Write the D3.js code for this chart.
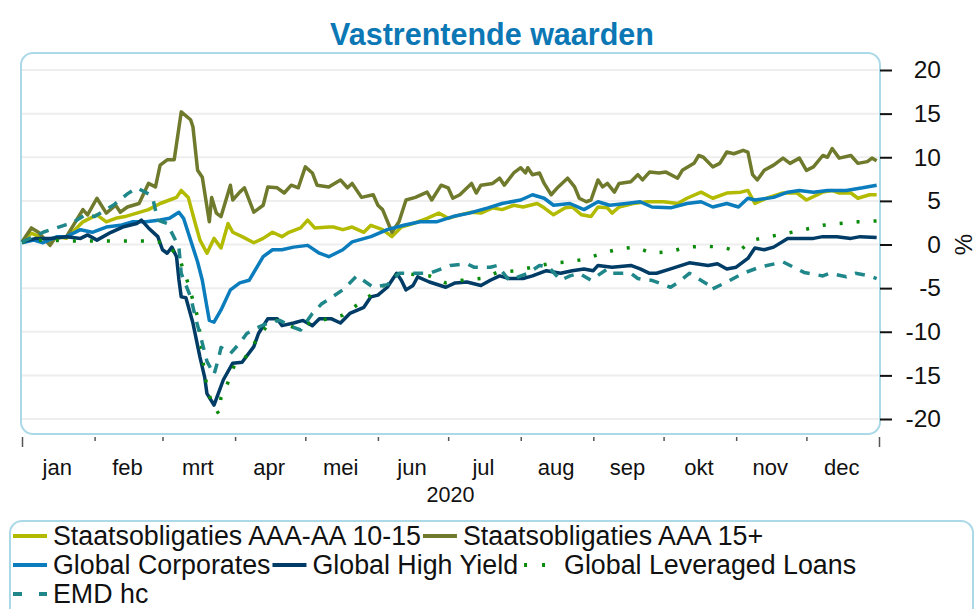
<!DOCTYPE html>
<html>
<head>
<meta charset="utf-8">
<script src="https://cdn.jsdelivr.net/npm/d3@7"></script>
<style>
	body { margin: 0; background: #fff; }
	svg { display: block; font-family: "Liberation Sans", Arial, sans-serif; }
</style>
</head>
<body>
<script>
// dag van het jaar (0 = 1 jan 2020), rendement in %
var staat1015 = [[0,0.3],[4,1.3],[9,0.7],[12,0.3],[15,0.9],[19,0.7],[26,2.6],[29,3.0],[32,3.4],[36,2.6],[40,3.0],[44,3.2],[49,3.6],[54,4.0],[59,4.7],[63,5.1],[66,5.4],[68,6.2],[71,5.4],[74,2.4],[76,0.5],[79,-1.0],[82,0.7],[85,-0.4],[88,2.4],[90,1.4],[94,0.9],[99,0.2],[103,0.7],[107,1.4],[111,0.9],[114,1.4],[119,1.9],[122,2.8],[125,1.9],[131,2.0],[133,2.0],[137,1.7],[141,2.0],[146,1.4],[149,2.2],[154,1.7],[158,0.9],[162,2.0],[167,2.4],[173,3.0],[178,3.6],[182,3.0],[187,3.4],[192,3.7],[196,3.6],[201,4.2],[205,4.0],[210,4.5],[214,4.3],[220,4.7],[223,4.2],[227,3.4],[232,4.2],[235,4.3],[239,3.4],[243,3.2],[246,4.3],[250,4.2],[252,3.6],[255,4.3],[261,4.7],[267,4.9],[274,4.9],[280,4.7],[284,5.3],[290,6.0],[295,5.3],[301,5.9],[307,6.0],[310,6.2],[313,4.7],[318,5.3],[325,5.9],[331,5.9],[335,5.1],[342,6.0],[346,6.2],[349,5.9],[354,5.9],[357,5.3],[362,5.7],[365,5.7]];

var staat15 = [[0,0.3],[4,1.9],[7,1.4],[12,-0.1],[14,0.7],[19,0.9],[26,4.0],[28,3.4],[32,5.3],[36,3.6],[40,4.5],[42,3.7],[45,4.3],[50,4.7],[54,7.0],[57,6.6],[59,9.1],[62,9.7],[65,9.7],[68,15.2],[72,14.3],[73,13.5],[75,8.5],[77,7.7],[80,2.6],[81,5.4],[83,3.6],[85,3.2],[89,6.8],[90,5.1],[93,6.0],[95,6.5],[99,3.7],[103,4.5],[105,6.6],[109,6.5],[112,5.9],[115,6.8],[118,6.5],[121,8.9],[124,8.2],[126,6.8],[131,6.6],[136,7.4],[139,6.5],[141,7.0],[145,5.4],[150,5.7],[152,4.5],[154,4.0],[158,1.4],[161,2.6],[164,5.1],[168,5.4],[173,6.0],[175,5.1],[179,6.8],[182,6.5],[184,5.3],[187,5.7],[192,7.0],[194,5.9],[196,6.8],[201,7.0],[204,7.6],[206,6.8],[210,8.2],[213,8.8],[215,8.2],[216,8.8],[218,8.0],[221,8.2],[223,7.0],[226,5.7],[229,6.6],[233,7.6],[236,6.6],[238,5.3],[241,4.9],[243,5.1],[246,7.4],[248,6.6],[250,7.0],[253,6.0],[255,7.0],[260,7.2],[263,8.0],[265,7.4],[268,8.3],[272,8.2],[275,8.3],[280,7.6],[282,8.5],[287,9.3],[289,10.2],[291,10.0],[295,8.9],[298,9.3],[301,10.6],[304,10.4],[308,10.8],[310,10.6],[312,8.0],[314,7.4],[317,8.5],[321,9.1],[325,9.9],[328,9.3],[332,9.9],[335,8.5],[338,8.9],[342,10.2],[344,10.0],[346,11.0],[349,9.9],[354,10.2],[357,9.3],[361,9.5],[363,9.9],[365,9.6]];

var corporates = [[0,0.2],[5,0.5],[9,0.2],[15,0.9],[19,0.9],[25,1.7],[30,1.4],[36,2.0],[42,2.2],[47,2.6],[53,2.6],[59,2.8],[63,3.0],[67,3.7],[69,3.0],[72,0.5],[75,-2.0],[77,-4.1],[79,-7.2],[80,-8.7],[82,-8.9],[85,-7.5],[89,-5.2],[93,-4.4],[97,-4.1],[103,-1.4],[107,-0.6],[111,-0.6],[116,-0.3],[122,-0.1],[127,-1.0],[131,-1.4],[137,-0.6],[141,0.3],[149,0.9],[156,1.7],[163,2.2],[170,2.6],[177,2.6],[184,3.2],[191,3.6],[199,4.2],[205,4.7],[213,5.1],[218,5.7],[223,5.3],[227,4.5],[234,4.7],[240,4.0],[246,4.9],[251,4.5],[258,4.7],[264,4.9],[269,4.3],[277,4.2],[284,4.7],[290,4.9],[295,4.3],[301,4.7],[306,4.3],[310,5.3],[313,5.1],[321,5.4],[327,6.0],[332,6.2],[338,6.0],[344,6.2],[352,6.2],[359,6.5],[365,6.8]];

var highYield = [[0,0.3],[6,0.7],[12,0.7],[19,0.9],[25,0.7],[28,1.1],[32,0.5],[38,1.4],[43,2.0],[49,2.4],[51,2.8],[54,1.9],[58,0.9],[60,-0.6],[62,-1.0],[64,-0.3],[66,-1.4],[67,-4.0],[68,-6.0],[70,-6.1],[73,-9.0],[76,-12.9],[78,-15.2],[79,-17.1],[82,-18.4],[86,-15.5],[90,-13.6],[94,-13.5],[99,-11.7],[101,-10.2],[105,-8.5],[109,-8.5],[111,-9.3],[116,-9.0],[120,-8.7],[124,-9.3],[127,-8.5],[132,-8.5],[136,-9.0],[140,-7.9],[146,-7.2],[149,-6.0],[152,-5.8],[156,-4.9],[160,-3.3],[162,-4.1],[164,-5.2],[167,-4.7],[169,-3.7],[174,-4.3],[181,-4.9],[185,-4.4],[190,-4.3],[196,-4.7],[200,-4.1],[204,-3.6],[208,-3.9],[214,-3.9],[218,-3.6],[224,-3.0],[230,-3.3],[235,-3.0],[240,-2.8],[244,-3.0],[246,-2.4],[252,-2.6],[260,-2.4],[264,-2.8],[268,-3.3],[271,-3.3],[277,-2.8],[285,-2.1],[293,-2.4],[297,-2.2],[301,-2.8],[305,-2.6],[310,-1.6],[313,-0.4],[317,-0.6],[321,-0.3],[327,0.7],[332,0.7],[338,0.7],[342,0.9],[348,0.9],[354,0.7],[358,0.9],[365,0.8]];

var leveragedLoans = [[0,0.3],[8,0.5],[23,0.4],[33,0.4],[44,0.4],[55,0.4],[61,0.2],[67,-1.4],[71,-4.5],[75,-8.3],[76,-10.2],[77,-12.9],[79,-16.4],[81,-18.1],[84,-19.4],[85,-17.5],[88,-15.8],[91,-13.6],[95,-13.1],[100,-11.0],[103,-9.9],[107,-8.5],[116,-9.5],[126,-8.8],[137,-8.1],[150,-5.6],[161,-3.3],[174,-3.6],[181,-4.4],[188,-4.1],[196,-3.9],[203,-3.2],[211,-3.0],[218,-2.6],[225,-2.2],[233,-2.0],[240,-1.7],[248,-1.0],[255,-0.5],[262,-0.3],[269,-1.0],[277,-0.8],[284,-0.3],[292,-0.2],[299,-0.3],[306,-0.8],[312,0.5],[319,0.9],[327,1.3],[334,1.7],[342,2.2],[349,2.4],[357,2.6],[365,2.7]];

var emdHc = [[0,0.3],[9,1.4],[18,2.2],[21,2.4],[27,3.4],[31,3.2],[39,4.5],[45,5.8],[49,6.5],[54,5.8],[56,5.1],[58,2.8],[60,2.6],[62,2.4],[67,-0.3],[68,-3.3],[72,-6.0],[74,-8.3],[77,-11.3],[79,-13.4],[82,-14.9],[84,-13.0],[85,-11.8],[89,-12.5],[93,-11.3],[96,-10.2],[100,-9.6],[105,-9.0],[110,-8.7],[116,-9.5],[119,-9.8],[124,-7.9],[128,-6.8],[132,-6.1],[137,-5.2],[143,-3.6],[150,-4.9],[156,-4.6],[161,-3.3],[168,-3.3],[174,-3.3],[183,-2.4],[190,-2.2],[193,-2.6],[200,-2.6],[203,-2.4],[208,-4.1],[216,-3.3],[221,-2.4],[225,-2.6],[230,-4.1],[234,-3.6],[238,-3.3],[243,-4.1],[250,-2.8],[252,-3.3],[260,-3.3],[263,-3.9],[267,-4.1],[269,-4.1],[277,-4.9],[280,-4.4],[285,-3.3],[293,-4.6],[294,-5.2],[301,-4.3],[308,-3.3],[315,-2.6],[325,-2.0],[334,-3.2],[342,-3.6],[345,-3.3],[352,-3.7],[356,-3.3],[362,-3.6],[365,-3.9]];

var seriesNames = ["Staatsobligaties AAA-AA 10-15", "Staatsobligaties AAA 15+", "Global Corporates", "Global High Yield", "Global Leveraged Loans", "EMD hc"];
var seriesColors = ["#b3bb00", "#707a2c", "#0b7dbd", "#003c66", "#0a8a0a", "#1f8789"];
var seriesData = [staat1015, staat15, corporates, highYield, leveragedLoans, emdHc];

var monthLabels = ["jan", "feb", "mrt", "apr", "mei", "jun", "jul", "aug", "sep", "okt", "nov", "dec"];
var yTicks = [-20, -15, -10, -5, 0, 5, 10, 15, 20];
var legendRows = [[0, 1], [2, 3, 4], [5]];

var w = 976;
var h = 609;
var box = {left: 21, top: 53, right: 880, bottom: 434};

var start = new Date(2020, 0, 1);
var end = new Date(2021, 0, 1);

var x = d3.scaleTime().domain([start, end]).range([22, 879]);
var y = d3.scaleLinear().domain([-20, 20]).range([419, 70]);

var svg = d3.select("body")
			.append("svg")
			.attr("width", w)
			.attr("height", h);

//title
svg.append("text")
	.attr("x", 492)
	.attr("y", 45)
	.attr("text-anchor", "middle")
	.attr("font-weight", "bold")
	.attr("font-size", 30.5)
	.attr("fill", "#0b77b4")
	.text("Vastrentende waarden");

//gridlines
svg.append("g")
	.selectAll("line")
	.data(yTicks)
	.enter()
	.append("line")
	.attr("x1", box.left + 1)
	.attr("x2", box.right)
	.attr("y1", function(d) { return y(d); })
	.attr("y2", function(d) { return y(d); })
	.attr("stroke", "#eeeeee")
	.attr("stroke-width", 2);

//plot box
svg.append("rect")
	.attr("x", box.left)
	.attr("y", box.top)
	.attr("width", box.right - box.left)
	.attr("height", box.bottom - box.top)
	.attr("rx", 12)
	.attr("fill", "none")
	.attr("stroke", "#acd9e8")
	.attr("stroke-width", 2);

//y axis right (gewoon streepje als minteken)
var yAxis = d3.axisRight(y)
	.tickValues(yTicks)
	.tickSize(12)
	.tickPadding(14)
	.tickFormat(function(d) { return String(d); });

var yg = svg.append("g")
	.attr("transform", "translate(" + box.right + ",0)")
	.call(yAxis);
yg.select(".domain").remove();
yg.selectAll(".tick line").attr("stroke", "#111").attr("stroke-width", 2);
yg.selectAll(".tick text")
	.attr("x", 61)
	.attr("text-anchor", "end")
	.attr("font-size", 24.5)
	.attr("font-family", "Liberation Sans, Arial, sans-serif")
	.attr("fill", "#111");

svg.append("text")
	.attr("transform", "translate(972," + y(0) + ") rotate(-90)")
	.attr("text-anchor", "middle")
	.attr("font-size", 24)
	.attr("fill", "#111")
	.text("%");

//x axis
var monthStarts = d3.timeMonth.range(start, d3.timeDay.offset(end, 1));
var xAxis = d3.axisBottom(x)
	.tickValues(monthStarts)
	.tickSize(4)
	.tickFormat("");

var xg = svg.append("g")
	.attr("transform", "translate(0," + (box.bottom + 3) + ")")
	.call(xAxis);
xg.select(".domain").remove();
xg.selectAll(".tick line")
	.attr("stroke", "#555")
	.attr("stroke-width", 1.5)
	.attr("y2", function(d, i) {
		return (i == 0 || i == monthStarts.length - 1) ? 10 : 4;
	});

svg.append("g")
	.selectAll("text")
	.data(monthLabels)
	.enter()
	.append("text")
	.attr("x", function(d, i) {
		return (x(monthStarts[i]) + x(monthStarts[i + 1])) / 2 - 1;
	})
	.attr("y", 475)
	.attr("text-anchor", "middle")
	.attr("font-size", 22)
	.attr("fill", "#111")
	.text(function(d) { return d; });

svg.append("text")
	.attr("x", (x(start) + x(end)) / 2)
	.attr("y", 502)
	.attr("text-anchor", "middle")
	.attr("font-size", 21.5)
	.attr("fill", "#111")
	.text("2020");

//lines
var line = d3.line()
	.x(function(d) { return x(d3.timeDay.offset(start, d[0])); })
	.y(function(d) { return y(d[1]); });

function dashFor(i) {
	if (i == 4) return "3,14";
	if (i == 5) return "10,9";
	return null;
}

svg.append("g")
	.selectAll("path")
	.data(seriesData)
	.enter()
	.append("path")
	.attr("d", line)
	.attr("fill", "none")
	.attr("stroke", function(d, i) { return seriesColors[i]; })
	.attr("stroke-width", 3.5)
	.attr("stroke-linejoin", "round")
	.attr("stroke-dasharray", function(d, i) { return dashFor(i); });

//legend
svg.append("rect")
	.attr("x", 10)
	.attr("y", 521)
	.attr("width", 963)
	.attr("height", 110)
	.attr("rx", 12)
	.attr("fill", "none")
	.attr("stroke", "#acd9e8")
	.attr("stroke-width", 2);

var legend = svg.append("g");
legendRows.forEach(function(row, r) {
	var cy = 536 + r * 29;
	var cx = 13;
	row.forEach(function(i) {
		var sw = legend.append("line")
			.attr("x1", cx)
			.attr("x2", cx + 34)
			.attr("y1", cy)
			.attr("y2", cy)
			.attr("stroke", seriesColors[i])
			.attr("stroke-width", 4);
		if (i == 4) sw.attr("stroke-dasharray", "3,15").attr("stroke-dashoffset", -4);
		if (i == 5) sw.attr("stroke-dasharray", "9,17");

		var off = (i == 4) ? 44 : 40;
		var t = legend.append("text")
			.attr("x", cx + off)
			.attr("y", cy + 9)
			.attr("font-size", 26.8)
			.attr("fill", "#111")
			.text(seriesNames[i]);
		cx = cx + off + t.node().getComputedTextLength() + 2;
	});
});
</script>
</body>
</html>
